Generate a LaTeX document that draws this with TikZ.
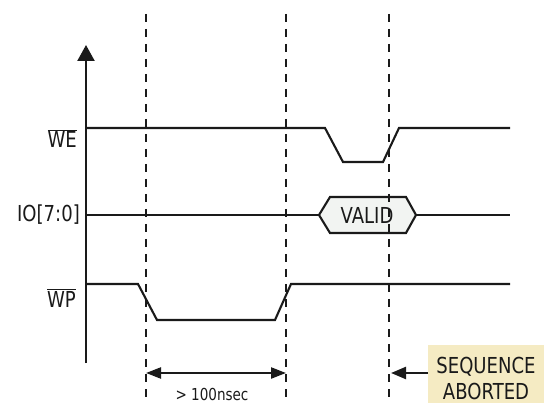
\documentclass[tikz,border=0pt]{standalone}
\usepackage{fontspec}
\setmainfont{DejaVu Sans}[FakeStretch=0.82]
\usetikzlibrary{arrows.meta}
\definecolor{tanbox}{HTML}{F5EBC3}
\definecolor{validfill}{HTML}{F2F4F2}
\definecolor{ink}{HTML}{1A1A1A}
\begin{document}
\begin{tikzpicture}[x=1pt,y=-1pt,
  sig/.style={draw=ink,line width=2.1pt,line join=miter},
  guide/.style={draw=ink,line width=2.8pt,dash pattern=on 8pt off 7pt},
  big/.style={font=\fontsize{22}{26}\selectfont,text=ink},
  lbl/.style={big,anchor=base east,inner sep=0pt},
  dim/.style={draw=ink,line width=2.3pt}
]
\useasboundingbox (0,0) rectangle (546,403);
% axis
\coordinate (ax0) at (86,363);
\coordinate (ax1) at (86,45);
\draw[draw=ink,line width=2.3pt,-{Triangle[length=16pt,width=17pt]}] (ax0) -- (ax1);
% labels
\node[lbl] (lwe) at (77,148) {$\overline{\mbox{WE}}$};
\node[lbl] (lio) at (80,222) {IO[7:0]};
\node[lbl] (lwp) at (76,307) {$\overline{\mbox{WP}}$};
% WE waveform
\draw[sig] (87,128) -- (325,128) -- (343,162) -- (383,162) -- (399,128) -- (510,128);
% IO waveform
\draw[sig,fill=validfill] (319,215) -- (330,197) -- (406,197) -- (416,215) -- (406,233) -- (330,233) -- cycle;
\node[big,inner sep=0pt] (valid) at (367,215) {VALID};
\draw[sig] (87,215) -- (319,215);
\draw[sig] (416,215) -- (510,215);
% WP waveform
\draw[sig] (87,284) -- (138,284) -- (157,320) -- (275,320) -- (291,284) -- (510,284);
% guides
\draw[guide] (146,14) -- (146,403);
\draw[guide] (286,14) -- (286,403);
\draw[guide] (389,14) -- (389,403);
% timing dimension
\coordinate (t1) at (146,373);
\coordinate (t2) at (286,373);
\draw[dim,{Triangle[length=15pt,width=11pt]}-{Triangle[length=15pt,width=11pt]}] (t1) -- (t2);
\node[font=\fontsize{16.5}{20}\selectfont,text=ink,inner sep=0pt] (tl) at (212,394) {> 100nsec};
% abort box
\node[fill=tanbox,minimum width=116pt,minimum height=66pt,inner sep=0pt,align=center,
  big] (abort) at (486,378) {SEQUENCE\\ABORTED};
\coordinate (ab0) at (428,373);
\coordinate (ab1) at (391,373);
\draw[dim,-{Triangle[length=15pt,width=12pt]}] (ab0) -- (ab1);
\end{tikzpicture}
\end{document}
